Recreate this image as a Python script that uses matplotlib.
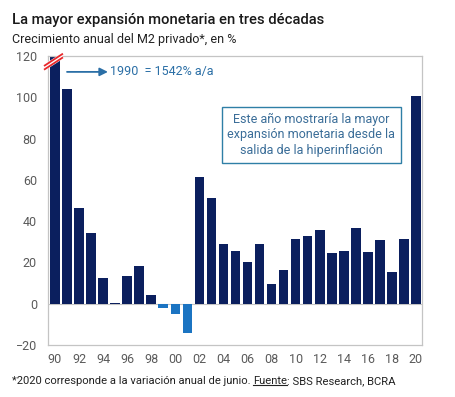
import matplotlib
matplotlib.use("Agg")
import matplotlib.pyplot as plt

plt.rcParams['font.family'] = ['Roboto', 'DejaVu Sans']

# data (1990 is off the scale: 1542%)
years = list(range(1990, 2021))
m2_growth = [1542, 104, 46.3, 34.4, 12.6, 0.5, 13.2, 18.5, 4.4, -2.3, -5.2, -14.4,
             61.2, 51, 28.7, 25.3, 20.2, 28.7, 9.7, 16.1, 31.5, 32.6, 35.5, 24.5,
             25.5, 36.8, 25, 30.8, 15.6, 31.5, 100.4]
tick_years = years[::2]
tick_labels = [f"{y % 100:02d}" for y in tick_years]
y_ticks = [-20, 0, 20, 40, 60, 80, 100, 120]

NAVY = "#0b1f5e"
NEG = "#1b74c2"
GRAY = "#c4c4c4"
TXT_BLUE = "#2b6fa6"

fig = plt.figure(figsize=(4.56, 3.97), dpi=100)
ax = fig.add_axes([48 / 456, (397 - 345) / 397, (422 - 48) / 456, (345 - 56) / 397])

colors = [NAVY if v >= 0 else NEG for v in m2_growth]
ax.bar(years, m2_growth, width=0.8, color=colors, zorder=2)
ax.axhline(0, color=GRAY, linewidth=0.8, zorder=1)

ax.set_xlim(years[0] - 0.58, years[-1] + 0.5)
ax.set_ylim(-20, 120)
ax.set_yticks(y_ticks)
ax.set_xticks(tick_years)
ax.set_xticklabels(tick_labels)
ax.tick_params(length=0, labelsize=9, colors="#5a5a5a", pad=6)
ax.tick_params(axis="y", pad=8)
for s in ax.spines.values():
    s.set_color(GRAY)
    s.set_linewidth(0.9)

# axis break marks on the 1990 bar
x0 = years[0]
ax.plot([x0 - 0.85, x0 + 0.6], [114.5, 120], color="white", linewidth=4,
        clip_on=False, zorder=4, solid_capstyle="butt")
for dy in (-0.9, 0.9):
    ax.plot([x0 - 0.85, x0 + 0.6], [114.5 + dy, 120 + dy], color="#e8282b",
            linewidth=1.3, clip_on=False, zorder=5)

# arrow + label for 1990
ax.annotate("", xy=(1994.4, 112.3), xytext=(1991.0, 112.3),
            arrowprops=dict(arrowstyle="-|>", color=TXT_BLUE, lw=1.3,
                            mutation_scale=12, shrinkA=0, shrinkB=0))
ax.text(1994.6, 112.3, "1990  = 1542% a/a", color=TXT_BLUE, fontsize=9,
        va="center", ha="left")

# annotation box
ax.text(2011.3, 81.8,
        "Este año mostraría la mayor\nexpansión monetaria desde la\nsalida de la hiperinflación",
        ha="center", va="center", fontsize=9, color="#3a6d98", linespacing=1.25,
        bbox=dict(boxstyle="square,pad=0.45", facecolor="white",
                  edgecolor="#2f7fa6", linewidth=1))

# titles
fig.text(12 / 456, 1 - 20 / 397, "La mayor expansión monetaria en tres décadas",
         fontsize=10.6, weight="medium", color="#1a1a1a", va="center")
fig.text(12 / 456, 1 - 40 / 397, "Crecimiento anual del M2 privado*, en %",
         fontsize=9, color="#222222", va="center")

# footnote with underlined "Fuente"
fy = 1 - 381 / 397
fs = 8.1
t1 = fig.text(12 / 456, fy, "*2020 corresponde a la variación anual de junio. ",
              fontsize=fs, color="#222222", va="center")
fig.canvas.draw()
r = fig.canvas.get_renderer()
bb1 = t1.get_window_extent(r)
x_f = bb1.x1 / fig.bbox.width
t2 = fig.text(x_f, fy, "Fuente", fontsize=fs, color="#222222", va="center")
bb2 = t2.get_window_extent(r)
fig.add_artist(plt.Line2D([bb2.x0 / fig.bbox.width, bb2.x1 / fig.bbox.width],
                          [(bb2.y0 + 1) / fig.bbox.height] * 2,
                          color="#222222", linewidth=0.8))
fig.text(bb2.x1 / fig.bbox.width, fy, ": SBS Research, BCRA", fontsize=fs,
         color="#222222", va="center")

fig.savefig("out.png", dpi=100)
